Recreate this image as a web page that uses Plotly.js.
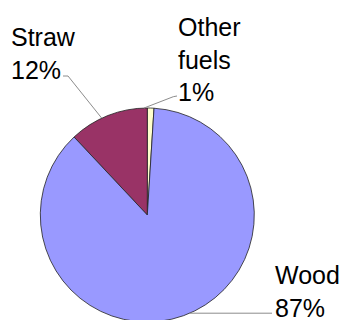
<!DOCTYPE html>
<html>
<head>
<meta charset="utf-8">
<script src="https://cdn.plot.ly/plotly-3.0.1.min.js"></script>
<style>
html, body { margin: 0; padding: 0; overflow: hidden; background: #fff; }
#chart { width: 345px; height: 324px; }
</style>
</head>
<body>
<div id="chart"></div>
<script>
// Data
const labels = ['Other fuels', 'Straw', 'Wood'];
const values = [1, 12, 87];
const colors = ['#FFFFCC', '#993366', '#9999FF'];

// Layout geometry (pixels)
const W = 345, H = 324;
const cx = 147.3, cy = 215, r = 107;
// label text box top-left positions and leader-line label ends (layout only)
const labelPos = [
  {x: 176, y: 10.5, ends: [[173.3, 96.7], [177, 96]]},
  {x: 9, y: 21.5, ends: [[68, 76], [63, 76]]},
  {x: 272.5, y: 258.5, ends: [[272, null]]}
];

const px2x = p => p / W;
const px2y = p => 1 - p / H;

const total = values.reduce((a, b) => a + b, 0);
let cum = 0;
const annotations = [];
const shapes = [];
values.forEach((v, i) => {
  const theta = (cum + v / 2) / total * 2 * Math.PI;
  cum += v;
  const sx = cx - r * Math.sin(theta);
  const sy = cy - r * Math.cos(theta);
  const pct = Math.round(v / total * 100) + '%';
  const lp = labelPos[i];
  annotations.push({
    xref: 'paper', yref: 'paper',
    x: px2x(lp.x), y: px2y(lp.y),
    xanchor: 'left', yanchor: 'top', align: 'left',
    showarrow: false,
    text: labels[i].split(' ').join('<br>') + '<br>' + pct,
    font: {family: 'Liberation Sans, Arial, sans-serif', size: 25, color: '#000'}
  });
  let path = 'M' + px2x(sx) + ',' + px2y(sy);
  lp.ends.forEach(e => {
    const ey = e[1] === null ? sy : e[1];
    path += ' L' + px2x(e[0]) + ',' + px2y(ey);
  });
  shapes.push({
    type: 'path', xref: 'paper', yref: 'paper', path: path,
    line: {color: '#8c8c8c', width: 1}
  });
});

const trace = {
  type: 'pie',
  labels: labels,
  values: values,
  sort: false,
  direction: 'counterclockwise',
  rotation: 0,
  textinfo: 'none',
  hoverinfo: 'none',
  marker: {colors: colors, line: {color: '#222', width: 0.8}},
  domain: {
    x: [(cx - r) / W, (cx + r) / W],
    y: [1 - (cy + r) / H, 1 - (cy - r) / H]
  }
};

const layout = {
  width: W, height: H,
  margin: {l: 0, r: 0, t: 0, b: 0},
  showlegend: false,
  paper_bgcolor: '#fff',
  annotations: annotations,
  shapes: shapes
};

Plotly.newPlot('chart', [trace], layout, {staticPlot: true, displayModeBar: false});
</script>
</body>
</html>
